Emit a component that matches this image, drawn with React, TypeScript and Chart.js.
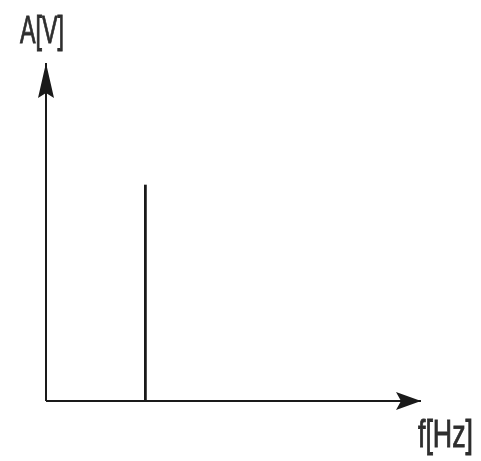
import React, { useEffect, useRef } from "react";
import { Chart, registerables } from "chart.js";

Chart.register(...registerables);

// Axis ranges (arbitrary units)
const xRange = [0, 10];
const yRange = [0, 10];
// Single spectral line: frequency and amplitude
const spikeFreq = [2.65];
const spikeAmp = [6.4];
// Axis labels
const yLabel = "A[V]";
const xLabel = "f[Hz]";

const lineColor = "#1a1a1a";
const textColor = "#2e2e2e";

const arrowPlugin = {
  id: "arrowsAndLabels",
  afterDatasetsDraw(chart: any) {
    const ctx = chart.ctx;
    const xs = chart.scales.x;
    const ys = chart.scales.y;
    const x0 = xs.getPixelForValue(xRange[0]);
    const x1 = xs.getPixelForValue(xRange[1]);
    const y0 = ys.getPixelForValue(yRange[0]);
    const y1 = ys.getPixelForValue(yRange[1]);
    ctx.save();
    ctx.fillStyle = lineColor;
    // vertical arrow head
    ctx.beginPath();
    ctx.moveTo(x0, y1);
    ctx.lineTo(x0 + 8, y1 + 35);
    ctx.lineTo(x0, y1 + 30);
    ctx.lineTo(x0 - 8, y1 + 35);
    ctx.closePath();
    ctx.fill();
    // horizontal arrow head
    ctx.beginPath();
    ctx.moveTo(x1, y0);
    ctx.lineTo(x1 - 25, y0 - 9);
    ctx.lineTo(x1 - 20, y0);
    ctx.lineTo(x1 - 25, y0 + 9);
    ctx.closePath();
    ctx.fill();

    const drawText = (t: string, left: number, baseline: number, width: number) => {
      ctx.save();
      ctx.font = "38px 'Liberation Sans', Arial, sans-serif";
      ctx.fillStyle = textColor;
      ctx.strokeStyle = textColor;
      ctx.lineWidth = 0.9;
      ctx.textBaseline = "alphabetic";
      ctx.textAlign = "left";
      const w = ctx.measureText(t).width;
      ctx.translate(left, baseline);
      ctx.scale(width / w, 1);
      ctx.fillText(t, 0, 0);
      ctx.strokeText(t, 0, 0);
      ctx.restore();
    };
    drawText(yLabel, x0 - 26, y1 - 20, 44);
    drawText(xLabel, x1 - 3, y0 + 46, 55);
    ctx.restore();
  },
};

export default function App() {
  const ref = useRef<HTMLCanvasElement>(null);
  useEffect(() => {
    document.body.style.margin = "0";
    const canvas = ref.current!;
    const chart = new Chart(canvas, {
      type: "scatter",
      data: {
        datasets: [
          {
            label: "y-axis",
            data: [
              { x: xRange[0], y: yRange[0] },
              { x: xRange[0], y: yRange[1] },
            ],
            showLine: true,
            borderColor: lineColor,
            borderWidth: 2,
            pointRadius: 0,
            clip: false as any,
          },
          {
            label: "x-axis",
            data: [
              { x: xRange[0], y: yRange[0] },
              { x: xRange[1], y: yRange[0] },
            ],
            showLine: true,
            borderColor: lineColor,
            borderWidth: 2,
            pointRadius: 0,
            clip: false as any,
          },
          {
            label: "spectrum",
            data: spikeFreq.flatMap((f, i) => [
              { x: f, y: 0 },
              { x: f, y: spikeAmp[i] },
            ]),
            showLine: true,
            borderColor: lineColor,
            borderWidth: 2.8,
            pointRadius: 0,
            clip: false as any,
          },
        ],
      },
      options: {
        animation: false,
        responsive: false,
        layout: { padding: { left: 46, right: 60, top: 63, bottom: 60 } },
        plugins: { legend: { display: false }, tooltip: { enabled: false } },
        scales: {
          x: { type: "linear", min: xRange[0], max: xRange[1], display: false },
          y: { type: "linear", min: yRange[0], max: yRange[1], display: false },
        },
      },
      plugins: [arrowPlugin],
    });
    return () => chart.destroy();
  }, []);
  return (
    <div style={{ position: "absolute", left: 0, top: 0, width: 481, height: 461, background: "#fff" }}>
      <canvas ref={ref} width={481} height={461} />
    </div>
  );
}
